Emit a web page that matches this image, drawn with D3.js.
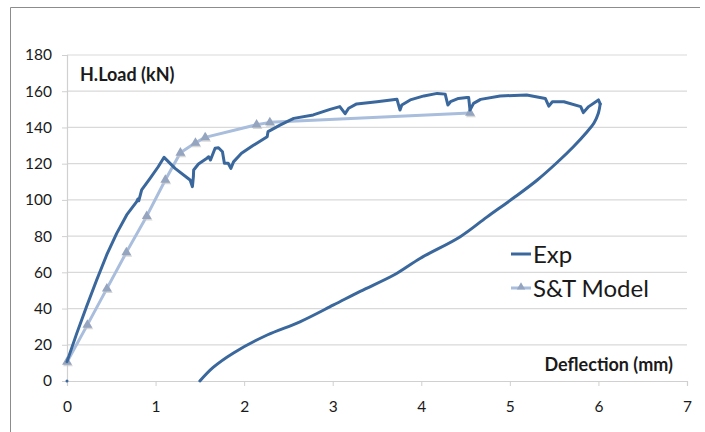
<!DOCTYPE html>
<html>
<head>
<meta charset="utf-8">
<script src="https://cdn.jsdelivr.net/npm/d3@7"></script>
<style>
  html, body { margin: 0; padding: 0; background: #fff; overflow: hidden; }
  svg { display: block; }
  text { font-family: Lato, "Liberation Sans", sans-serif; fill: #1a1a1a; }
</style>
</head>
<body>
<svg id="chart" width="705" height="432"></svg>
<script>
// Experimental load–deflection record (loading branch, then unloading branch)
const expDeflection = [0, 0.11, 0.22, 0.335, 0.448, 0.561, 0.674, 0.787, 0.80, 0.81, 0.843, 0.94, 1.03, 1.096,
  1.22, 1.39, 1.416, 1.427, 1.43, 1.484, 1.58, 1.60, 1.62, 1.672, 1.71, 1.755, 1.777, 1.82, 1.85, 1.88,
  1.97, 2.10, 2.26, 2.27, 2.41, 2.56, 2.78, 2.97, 3.08, 3.14, 3.18, 3.27, 3.50, 3.725, 3.76, 3.78, 3.875,
  4.03, 4.18, 4.27, 4.30, 4.33, 4.42, 4.516, 4.535, 4.55, 4.59, 4.67, 4.89, 5.19, 5.40, 5.44, 5.48, 5.61,
  5.80, 5.83, 5.89, 6.00, 6.02, 6.00, 5.95, 5.87, 5.72, 5.53, 5.31, 5.04, 4.74, 4.44, 3.99, 3.69, 3.31,
  3.01, 2.63, 2.26, 1.88, 1.65, 1.50];
const expLoad = [10.7, 26.3, 41, 55.8, 69.6, 81.5, 91.7, 99, 100.5, 99.5, 105.5, 112, 118.3, 123.5,
  117.4, 111, 107.3, 112.8, 116.5, 119.8, 123, 123.8, 122, 128.5, 128.8, 126.6, 120.2, 120.2, 117.4, 121,
  125.7, 130, 134.9, 137.7, 141.4, 145, 146.9, 150, 151.5, 147.6, 150.6, 153, 154.2, 155.6, 149.6, 152.4, 155.2,
  157.4, 158.8, 158.4, 152.4, 154.2, 156, 156.5, 156.5, 149.6, 153.3, 155.5, 157.4, 157.9, 156, 151.8, 154.2, 154.2,
  151.5, 148.2, 151.5, 155.2, 153, 148, 142.5, 137.5, 129.5, 120.5, 111, 101, 90.5, 79.7, 67.8, 58.5, 49.5,
  42, 32.7, 25.4, 15.5, 7.5, 0];
// Isolated first reading at the origin
const expOrigin = [[0, 0]];

// Strut-and-tie model prediction
const modelDeflection = [0, 0.23, 0.45, 0.67, 0.90, 1.11, 1.28, 1.45, 1.56, 2.14, 2.29, 4.55];
const modelLoad = [10.5, 31, 51, 71, 91, 111, 126, 131.5, 134.5, 141.5, 142.8, 148];

const xTicks = [0, 1, 2, 3, 4, 5, 6, 7];
const yTicks = [0, 20, 40, 60, 80, 100, 120, 140, 160, 180];
const seriesNames = ["Exp", "S&T Model"];

const svg = d3.select("#chart");
const plotLeft = 67, plotRight = 687, plotTop = 55, plotBottom = 381;

const x = d3.scaleLinear().domain([0, 7]).range([plotLeft, plotRight]);
const y = d3.scaleLinear().domain([0, 180]).range([plotBottom, plotTop]);

// Chart frame: top and left edges
svg.append("path").attr("d", "M10.5,440V7.5H700")
  .attr("fill", "none").attr("stroke", "#8c8c8c").attr("stroke-width", 1);

// Horizontal gridlines
svg.append("g").selectAll("line").data(yTicks.slice(1)).join("line")
  .attr("x1", plotLeft).attr("x2", plotRight)
  .attr("y1", d => y(d)).attr("y2", d => y(d))
  .attr("stroke", "#d9d9d9").attr("stroke-width", 1.2);

// Y axis
const yAxis = svg.append("g").attr("transform", `translate(${plotLeft},0)`)
  .call(d3.axisLeft(y).tickValues(yTicks).tickSize(5).tickPadding(10));
yAxis.select(".domain").attr("stroke", "#d0d0d0").attr("stroke-width", 1.2);
yAxis.selectAll(".tick line").attr("stroke", "#d0d0d0");
yAxis.selectAll("text").attr("font-size", 15.5).attr("fill", "#1a1a1a")
  .style("font-family", "Lato, 'Liberation Sans', sans-serif");

// X axis
const xAxis = svg.append("g").attr("transform", `translate(0,${plotBottom})`)
  .call(d3.axisBottom(x).tickValues(xTicks).tickFormat(d3.format("d")).tickSize(5).tickPadding(15));
xAxis.select(".domain").attr("stroke", "#d0d0d0").attr("stroke-width", 1.2);
xAxis.selectAll(".tick line").attr("stroke", "#d0d0d0");
xAxis.selectAll("text").attr("font-size", 15.5).attr("fill", "#1a1a1a")
  .style("font-family", "Lato, 'Liberation Sans', sans-serif");

const line = d3.line().x(d => x(d[0])).y(d => y(d[1]));
const smoothLine = d3.line().x(d => x(d[0])).y(d => y(d[1])).curve(d3.curveCatmullRom.alpha(0.5));

// Model series (drawn first, beneath the experimental curve)
const modelPts = modelDeflection.map((d, i) => [d, modelLoad[i]]);
svg.append("path").datum(modelPts).attr("d", line)
  .attr("fill", "none").attr("stroke", "#a9bddc").attr("stroke-width", 3)
  .attr("stroke-linejoin", "round");

const tri = d3.symbol().type(d3.symbolTriangle).size(42);
// soft shadow under each marker
svg.append("g").selectAll("path").data(modelPts).join("path")
  .attr("d", tri).attr("transform", d => `translate(${x(d[0]) + 1},${y(d[1]) + 1.5})`)
  .attr("fill", "#c8c8c8").attr("opacity", 0.7);
svg.append("g").selectAll("path").data(modelPts).join("path")
  .attr("d", tri).attr("transform", d => `translate(${x(d[0])},${y(d[1])})`)
  .attr("fill", "#95a4bf");

// Experimental series: jagged loading branch, smooth unloading branch from the peak deflection
const expPts = expDeflection.map((d, i) => [d, expLoad[i]]);
const turn = d3.maxIndex(expDeflection);
const expStyle = p => p.attr("fill", "none").attr("stroke", "#3a679c").attr("stroke-width", 3)
  .attr("stroke-linejoin", "round").attr("stroke-linecap", "round");
svg.append("path").datum(expPts.slice(0, turn + 1)).attr("d", line).call(expStyle);
svg.append("path").datum(expPts.slice(turn)).attr("d", smoothLine).call(expStyle);
svg.append("g").selectAll("circle").data(expOrigin).join("circle")
  .attr("cx", d => x(d[0])).attr("cy", d => y(d[1])).attr("r", 1.5).attr("fill", "#3a679c");

// Axis titles
svg.append("text").attr("x", 80).attr("y", 81).attr("font-size", 18).attr("font-weight", "bold")
  .text("H.Load (kN)");
svg.append("text").attr("x", 673).attr("y", 371).attr("text-anchor", "end")
  .attr("font-size", 18).attr("font-weight", "bold").text("Deflection (mm)");

// Legend
const legend = svg.append("g");
const legendY = [254, 288];
legend.append("line").attr("x1", 511).attr("x2", 531).attr("y1", legendY[0]).attr("y2", legendY[0])
  .attr("stroke", "#3a679c").attr("stroke-width", 3);
legend.append("line").attr("x1", 511).attr("x2", 531).attr("y1", legendY[1]).attr("y2", legendY[1])
  .attr("stroke", "#a9bddc").attr("stroke-width", 3);
legend.append("path").attr("d", d3.symbol().type(d3.symbolTriangle).size(30))
  .attr("transform", `translate(521,${legendY[1] - 1})`).attr("fill", "#95a4bf");
legend.selectAll("text").data(seriesNames).join("text")
  .attr("x", 533).attr("y", (d, i) => legendY[i] + 8.5)
  .attr("font-size", 24).text(d => d);
</script>
</body>
</html>
